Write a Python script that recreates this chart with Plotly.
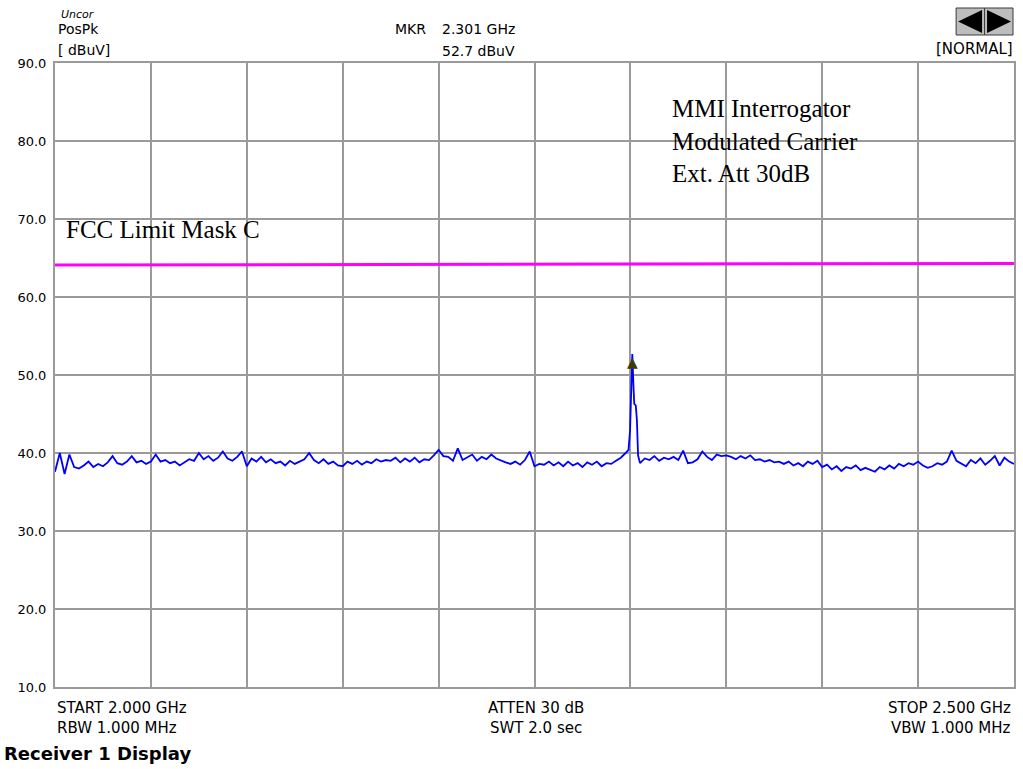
import numpy as np
import plotly.graph_objects as go

# Sweep settings (GHz)
START_GHZ = 2.000
STOP_GHZ = 2.500
STEP_GHZ = 0.0025

# Receiver trace below the carrier (2.0000 .. 2.2975 GHz, 2.5 MHz steps), dBuV
trace_low = [
    37.6, 40.0, 37.3, 39.8, 38.2, 38.0, 38.4, 38.9, 38.2, 38.6,
    38.3, 38.8, 39.6, 38.7, 38.5, 38.9, 39.6, 38.8, 39.0, 38.6,
    38.9, 39.8, 38.9, 39.1, 38.7, 38.9, 38.4, 38.8, 39.2, 39.0,
    40.0, 39.2, 39.6, 39.0, 39.4, 40.2, 39.3, 39.0, 39.5, 40.2,
    38.3, 39.3, 38.9, 39.5, 38.8, 39.2, 38.7, 38.9, 38.4, 39.0,
    38.6, 38.9, 39.2, 40.0, 39.1, 38.7, 39.2, 38.6, 38.9, 38.4,
    38.3, 38.9, 38.6, 39.0, 38.5, 38.9, 38.7, 39.2, 38.9, 39.1,
    39.0, 39.4, 38.8, 39.3, 38.9, 39.4, 38.8, 39.2, 39.1, 39.7,
    40.4, 39.6, 39.5, 39.0, 40.6, 39.1, 39.4, 39.8, 39.0, 39.5,
    39.2, 39.8, 39.3, 39.0, 38.8, 38.6, 38.9, 38.5, 39.1, 40.2,
    38.3, 38.6, 38.5, 38.9, 38.4, 38.8, 38.3, 38.9, 38.4, 38.7,
    38.2, 38.8, 38.5, 38.9, 38.3, 38.7, 38.6, 39.0, 39.4, 40.0,
]

# Modulated carrier around the marker
carrier_freq = [2.2990, 2.2998, 2.3005, 2.3010, 2.3015, 2.3020, 2.3028, 2.3034, 2.3040, 2.3050]
carrier_level = [40.4, 42.8, 50.6, 52.7, 49.2, 46.3, 46.1, 44.2, 39.7, 38.7]

# Receiver trace above the carrier (2.3075 .. 2.5000 GHz, 2.5 MHz steps), dBuV
TRACE_HIGH_START = 2.3075
trace_high = [
    39.3, 39.1, 39.6, 39.0, 39.4, 39.2, 39.5, 39.1,
    40.3, 38.7, 38.8, 39.2, 40.2, 39.5, 39.1, 39.8,
    39.6, 39.7, 39.5, 39.2, 39.6, 39.3, 39.7, 39.1,
    39.2, 38.9, 39.1, 38.8, 38.9, 38.6, 38.9, 38.4,
    38.7, 38.3, 38.9, 38.6, 39.0, 38.2, 38.5, 37.9,
    38.3, 37.7, 38.2, 38.0, 38.4, 37.8, 38.1, 37.9,
    37.6, 38.2, 37.9, 38.4, 38.0, 38.6, 38.3, 38.7,
    38.5, 38.9, 38.4, 38.1, 38.3, 38.7, 38.5, 38.9,
    40.3, 39.0, 38.6, 38.3, 39.1, 38.7, 39.3, 38.5,
    39.0, 39.6, 38.4, 39.4, 38.9, 38.6,
]

# FCC limit mask C (GHz, dBuV)
limit_freq = [2.000, 2.500]
limit_level = [64.1, 64.3]

# Marker readout
mkr_freq = 2.301
mkr_level = 52.7

# Level axis
y_min, y_max, y_step = 10.0, 90.0, 10.0
x_div = 0.05

freq_low = START_GHZ + STEP_GHZ * np.arange(len(trace_low))
freq_high = TRACE_HIGH_START + STEP_GHZ * np.arange(len(trace_high))
freq = np.concatenate([freq_low, carrier_freq, freq_high])
level = np.concatenate([trace_low, carrier_level, trace_high])

W, H = 1023, 769
L, R, T, B = 55, 7, 63, 82
PW, PH = W - L - R, H - T - B


def px(x):
    return (x - L) / PW


def py(y):
    return (H - B - y) / PH


ui_font = "DejaVu Sans"
serif = "Liberation Serif"
grid_col = "#9a9a9a"

fig = go.Figure()
fig.add_trace(go.Scatter(x=limit_freq, y=limit_level, mode="lines",
                         line=dict(color="#ff00ff", width=3), hoverinfo="skip"))
fig.add_trace(go.Scatter(x=freq, y=level, mode="lines",
                         line=dict(color="#0000ff", width=1.8), hoverinfo="skip"))

annotations = []


def label(text, x, y, xanchor="left", size=15, family=ui_font, **kw):
    annotations.append(dict(text=text, x=px(x), y=py(y), xref="paper", yref="paper",
                            xanchor=xanchor, yanchor="middle", showarrow=False,
                            font=dict(family=family, size=size, color="black"), **kw))


# header readouts
label("<i>Uncor</i>", 59, 14, size=11)
label("PosPk", 56, 29, size=14)
label("[ dBuV]", 56, 50, size=14)
label("MKR", 394, 29, size=14)
label(f"{mkr_freq:.3f} GHz", 441, 29, size=14)
label(f"{mkr_level:.1f} dBuV", 441, 51, size=14)
label("[NORMAL]", 1017, 49, xanchor="right")

# footer readouts
label(f"START {START_GHZ:.3f} GHz", 55, 708)
label("RBW 1.000 MHz", 55, 728)
label("ATTEN 30 dB", 537, 708, xanchor="center")
label("SWT 2.0 sec", 537, 728, xanchor="center")
label(f"STOP {STOP_GHZ:.3f} GHz", 1015, 708, xanchor="right")
label("VBW 1.000 MHz", 1015, 728, xanchor="right")
label("<b>Receiver 1 Display</b>", 2, 753, size=18)

# plot notes
label("FCC Limit Mask C", 64, 229, size=25, family=serif)
label("MMI Interrogator<br>Modulated Carrier<br>Ext. Att 30dB", 671, 141,
      size=25, family=serif, align="left")

# marker glyph sitting under the peak
annotations.append(dict(text="▲", x=mkr_freq, y=mkr_level, xref="x", yref="y",
                        xanchor="center", yanchor="top", showarrow=False, yshift=2,
                        font=dict(family=ui_font, size=14, color="#403a00")))

# left/right scroll buttons
shapes = [
    dict(type="rect", xref="paper", yref="paper", x0=px(958), x1=px(1015), y0=py(35), y1=py(8),
         fillcolor="#bdbdbd", line=dict(color="#3a3a3a", width=1)),
    dict(type="line", xref="paper", yref="paper", x0=px(986.5), x1=px(986.5), y0=py(35), y1=py(8),
         line=dict(color="#3a3a3a", width=1)),
    dict(type="path", xref="paper", yref="paper", fillcolor="black", line=dict(width=0),
         path=f"M {px(960)} {py(21.5)} L {px(984)} {py(10)} L {px(984)} {py(33)} Z"),
    dict(type="path", xref="paper", yref="paper", fillcolor="black", line=dict(width=0),
         path=f"M {px(1013)} {py(21.5)} L {px(989)} {py(10)} L {px(989)} {py(33)} Z"),
]

fig.update_layout(
    width=W, height=H,
    margin=dict(l=L, r=R, t=T, b=B, pad=0),
    paper_bgcolor="white", plot_bgcolor="white",
    showlegend=False,
    annotations=annotations,
    shapes=shapes,
    xaxis=dict(range=[START_GHZ, STOP_GHZ], dtick=x_div, tick0=START_GHZ,
               showticklabels=False, ticks="", showgrid=True, gridcolor=grid_col, gridwidth=2,
               showline=True, linecolor=grid_col, linewidth=2, mirror=True, zeroline=False,
               fixedrange=True),
    yaxis=dict(range=[y_min, y_max], dtick=y_step, tick0=y_min, tickformat=".1f",
               ticks="", showgrid=True, gridcolor=grid_col, gridwidth=2,
               showline=True, linecolor=grid_col, linewidth=2, mirror=True, zeroline=False,
               tickfont=dict(family=ui_font, size=13, color="black"),
               ticklabelstandoff=4, fixedrange=True),
)

fig.write_html("out.html")
